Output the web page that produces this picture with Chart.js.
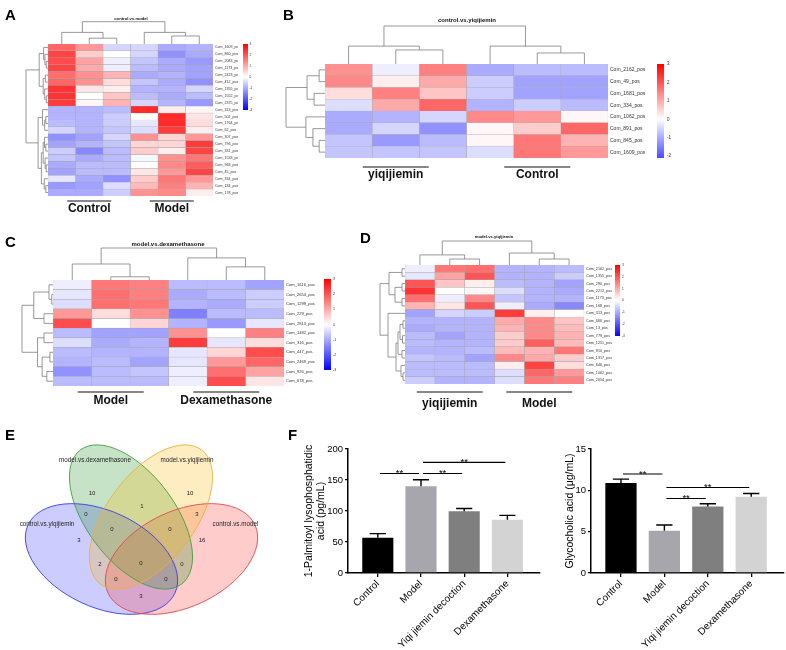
<!DOCTYPE html>
<html>
<head>
<meta charset="utf-8">
<script src="https://cdn.jsdelivr.net/npm/chart.js@4.4.1/dist/chart.umd.min.js"></script>
<style>
  body { margin: 0; background: #fff; }
  #fig { position: relative; width: 786px; height: 650px; overflow: hidden; }
  #fig canvas { position: absolute; left: 0; top: 0; }
  .tag { position: absolute; font: bold 15px "Liberation Sans", Arial, sans-serif; line-height: 15px; color: #000; }
</style>
</head>
<body>
<div id="fig">
  <canvas id="cA" width="786" height="650"></canvas>
  <canvas id="cB" width="786" height="650"></canvas>
  <canvas id="cC" width="786" height="650"></canvas>
  <canvas id="cD" width="786" height="650"></canvas>
  <canvas id="cE" width="786" height="650"></canvas>
  <canvas id="cF1" width="786" height="650"></canvas>
  <canvas id="cF2" width="786" height="650"></canvas>
  <div class="tag" style="left:5px;top:7px">A</div>
  <div class="tag" style="left:283px;top:7px">B</div>
  <div class="tag" style="left:5px;top:234px">C</div>
  <div class="tag" style="left:360px;top:230px">D</div>
  <div class="tag" style="left:5px;top:427px">E</div>
  <div class="tag" style="left:288px;top:427px">F</div>
</div>
<script>
const FONT = '"Liberation Sans", Arial, sans-serif';

// ---------- A: control.vs.model ----------
const aRows = ['Com_1609_pos', 'Com_860_pos', 'Com_2083_pos', 'Com_1173_pos', 'Com_2423_pos', 'Com_412_pos',
  'Com_1355_pos', 'Com_1552_pos', 'Com_2375_pos', 'Com_313_pos', 'Com_502_pos', 'Com_1764_pos', 'Com_62_pos',
  'Com_307_pos', 'Com_796_pos', 'Com_331_pos', 'Com_1533_pos', 'Com_968_pos', 'Com_45_pos', 'Com_334_pos',
  'Com_134_pos', 'Com_178_pos'];
const aValues = [
  [1.8, 1.2, -0.5, -0.5, -1.0, -0.9],
  [2.2, 0.6, 0.0, -0.5, -1.3, -1.0],
  [2.1, 1.1, -0.2, -0.7, -1.0, -1.2],
  [2.2, 1.0, -0.2, -0.8, -1.0, -1.1],
  [1.7, 1.3, 0.9, -1.0, -0.9, -1.1],
  [1.8, 1.3, 0.4, -0.7, -1.0, -1.3],
  [2.4, 0.3, 0.2, -0.9, -0.9, -0.5],
  [2.4, 0.0, 0.7, -0.8, -1.0, -0.8],
  [2.3, 0.1, 0.9, -0.5, -0.9, -1.2],
  [-0.9, -0.9, -0.8, 2.5, 0.2, 0.1],
  [-0.9, -0.9, -0.6, 0.0, 2.5, 0.3],
  [-0.8, -0.9, -0.6, -0.3, 2.5, 0.4],
  [-0.5, -0.9, -0.7, -0.4, 2.3, 0.2],
  [-1.3, -1.1, -0.5, 1.3, 0.5, 1.2],
  [-1.1, -0.9, -0.7, 0.5, 0.5, 2.3],
  [-0.6, -1.4, -0.8, 0.6, 0.2, 2.2],
  [-0.7, -1.0, -0.8, -0.1, 1.3, 1.6],
  [-1.0, -0.8, -0.8, 0.0, 1.4, 1.9],
  [-1.1, -0.8, -0.8, 0.3, 1.2, 2.2],
  [-0.3, -1.0, -1.3, 0.6, 1.6, 1.2],
  [-1.2, -1.1, -0.4, 0.8, 1.5, 0.9],
  [-1.0, -1.0, -0.6, 1.3, 1.4, 0.2]
];
// linkage rows: [childA, childB, height]; ids >= n are earlier merges
const aRowTree = [[2, 3, 0.08], [1, 22, 0.14], [0, 23, 0.2], [4, 5, 0.12], [7, 8, 0.08], [6, 26, 0.15],
  [25, 27, 0.22], [24, 28, 0.4], [10, 11, 0.1], [12, 30, 0.15], [9, 31, 0.25], [14, 15, 0.1], [13, 33, 0.16],
  [17, 18, 0.08], [16, 35, 0.13], [34, 36, 0.22], [20, 21, 0.1], [19, 38, 0.17], [37, 39, 0.3], [32, 40, 0.45],
  [29, 41, 1.0]];
const aColTree = [[1, 2, 0.26], [4, 5, 0.36], [0, 6, 0.52], [3, 7, 0.52], [8, 9, 1.0]];
const aGroups = [['Control', 0, 3], ['Model', 3, 6]];

// ---------- B: control.vs.yiqijiemin ----------
const bRows = ['Com_2162_pos', 'Com_49_pos', 'Com_1681_pos', 'Com_334_pos', 'Com_1062_pos', 'Com_891_pos',
  'Com_845_pos', 'Com_1609_pos'];
const bValues = [
  [1.3, -0.2, 1.5, -1.0, -0.8, -0.8],
  [1.4, 0.2, 1.0, -0.6, -1.1, -1.1],
  [0.4, 1.5, 0.7, -0.6, -1.1, -1.1],
  [-0.4, 1.0, 1.8, -0.9, -0.6, -0.8],
  [-1.0, -0.9, -0.5, 1.4, 1.2, 0.1],
  [-1.0, -0.5, -1.3, 0.1, 0.6, 1.8],
  [-0.7, -1.2, -0.8, 0.1, 1.6, 0.9],
  [-0.7, -0.7, -0.7, -0.4, 1.6, 1.2]
];
const bRowTree = [[0, 1, 0.15], [2, 3, 0.28], [8, 9, 0.46], [6, 7, 0.15], [5, 11, 0.31], [4, 12, 0.49], [10, 13, 1.0]];
const bColTree = [[1, 2, 0.37], [4, 5, 0.29], [0, 6, 0.47], [3, 7, 0.47], [8, 9, 1.0]];
const bGroups = [['yiqijiemin', 0, 3], ['Control', 3, 6]];

// ---------- C: model.vs.dexamethasone ----------
const cRows = ['Com_1616_pos', 'Com_2654_pos', 'Com_1299_pos', 'Com_229_pos', 'Com_2813_pos', 'Com_1482_pos',
  'Com_316_pos', 'Com_447_pos', 'Com_2469_pos', 'Com_926_pos', 'Com_678_pos'];
const cValues = [
  [-0.2, 1.6, 1.5, -0.8, -0.8, -1.1],
  [-0.3, 1.7, 1.5, -1.0, -0.8, -0.6],
  [-0.4, 1.7, 1.6, -0.9, -1.0, -0.6],
  [1.2, 0.4, 1.3, -1.5, -0.8, -0.8],
  [2.1, 0.0, 0.5, -0.9, -1.2, -0.3],
  [-0.8, -1.1, -1.1, 1.3, 0.0, 1.5],
  [-0.4, -1.0, -0.9, 2.3, -0.3, 0.4],
  [-0.8, -0.9, -0.9, -0.3, 0.5, 2.1],
  [-0.9, -0.8, -1.1, -0.3, 1.2, 1.8],
  [-1.3, -0.8, -0.7, -0.2, 1.7, 1.1],
  [-0.8, -0.8, -0.8, -0.2, 2.1, 0.3]
];
const cRowTree = [[1, 2, 0.04], [0, 11, 0.13], [3, 4, 0.29], [12, 13, 0.62], [5, 6, 0.29], [7, 8, 0.1],
  [9, 10, 0.2], [16, 17, 0.35], [15, 18, 0.5], [14, 19, 1.0]];
const cColTree = [[1, 2, 0.1], [4, 5, 0.41], [0, 6, 0.5], [3, 7, 0.69], [8, 9, 1.0]];
const cGroups = [['Model', 0, 3], ['Dexamethasone', 3, 6]];

// ---------- D: model.vs.yiqijiemin ----------
const dRows = ['Com_2162_pos', 'Com_1355_pos', 'Com_290_pos', 'Com_2212_pos', 'Com_1173_pos', 'Com_168_pos',
  'Com_313_pos', 'Com_666_pos', 'Com_13_pos', 'Com_779_pos', 'Com_1251_pos', 'Com_910_pos', 'Com_1317_pos',
  'Com_646_pos', 'Com_1062_pos', 'Com_2054_pos'];
const dValues = [
  [-0.2, 1.6, 1.7, -0.9, -0.9, -0.8],
  [-0.3, 1.1, 2.0, -0.9, -0.9, -0.6],
  [2.0, 0.7, 0.2, -0.8, -0.9, -1.1],
  [2.4, 0.0, 0.1, -0.4, -0.9, -1.0],
  [1.7, -0.2, 1.4, -0.7, -0.9, -0.9],
  [0.9, 0.3, 2.0, -0.2, -1.0, -1.4],
  [-1.1, -0.5, -0.6, 2.3, 0.2, 0.0],
  [-0.9, -0.9, -0.9, 1.0, 1.4, 0.7],
  [-1.0, -0.9, -0.9, 0.9, 1.4, 0.8],
  [-0.8, -1.1, -0.9, 0.6, 1.4, 0.9],
  [-0.8, -0.9, -0.9, 0.6, 1.9, 0.8],
  [-0.9, -0.9, -0.8, 0.8, 0.9, 1.6],
  [-0.7, -0.8, -1.1, 1.4, 1.0, 0.6],
  [-0.8, -0.8, -0.8, 0.2, 2.2, 0.4],
  [-0.8, -0.8, -0.8, -0.4, 1.8, 1.2],
  [-0.6, -0.9, -0.9, -0.4, 1.6, 1.5]
];
const dRowTree = [[0, 1, 0.12], [2, 3, 0.12], [4, 5, 0.12], [17, 18, 0.4], [16, 19, 0.64], [7, 8, 0.08],
  [9, 10, 0.1], [21, 22, 0.2], [11, 12, 0.12], [23, 24, 0.28], [14, 15, 0.08], [13, 26, 0.16], [25, 27, 0.36],
  [6, 28, 0.68], [20, 29, 1.0]];
const dColTree = [[1, 2, 0.25], [4, 5, 0.25], [0, 6, 0.42], [3, 7, 0.5], [8, 9, 1.0]];
const dGroups = [['yiqijiemin', 0, 3], ['Model', 3, 6]];

// ---------- E: Venn ----------
const vennSets = ['control.vs.yiqijiemin', 'control.vs.model', 'model.vs.dexamethasone', 'model.vs.yiqijiemin'];
const vennCounts = [10, 10, 1, 0, 3, 0, 0, 3, 16, 0, 2, 0, 0, 0, 3];

// ---------- F: bar charts ----------
const fGroups = ['Control', 'Model', 'Yiqi jiemin decoction', 'Dexamethasone'];
const lpaMean = [57, 140, 99.5, 86];
const lpaErr = [6.5, 10.5, 4.5, 7];
const lpaSig = [[0, 1, 160.6], [1, 2, 160.6], [1, 3, 178.4]];
const gcaMean = [10.9, 5.1, 8.05, 9.22];
const gcaErr = [0.45, 0.7, 0.32, 0.4];
const gcaSig = [[0, 1, 11.97], [1, 3, 10.35], [1, 2, 9.02]];

// ---------- helpers ----------
function heatColor(v) {
  const t = Math.max(-1, Math.min(1, v / 3));
  const r = t >= 0 ? 255 : Math.round(255 * (1 + t));
  const g = Math.round(255 * (1 - Math.abs(t)));
  const b = t <= 0 ? 255 : Math.round(255 * (1 - t));
  return `rgb(${r},${g},${b})`;
}

function drawTree(ctx, tree, n, leafPos, toPx, top) {
  const pos = [], hgt = [];
  for (let i = 0; i < n; i++) { pos[i] = leafPos(i); hgt[i] = 0; }
  const hmax = Math.max(...tree.map(m => m[2]));
  const pt = (q, h) => top ? [q, toPx(h / hmax)] : [toPx(h / hmax), q];
  ctx.beginPath();
  tree.forEach(([a, b, h], k) => {
    pos[n + k] = (pos[a] + pos[b]) / 2;
    hgt[n + k] = h;
    ctx.moveTo(...pt(pos[a], hgt[a]));
    ctx.lineTo(...pt(pos[a], h));
    ctx.lineTo(...pt(pos[b], h));
    ctx.lineTo(...pt(pos[b], hgt[b]));
  });
  ctx.stroke();
}

function heatmap(id, rows, values, rowTree, colTree, groups, title, L) {
  const nCol = values[0].length;
  const datasets = [];
  for (let j = 0; j < nCol; j++) {
    datasets.push({
      data: rows.map(() => [j, j + 1]),
      backgroundColor: values.map(r => heatColor(r[j])),
      borderColor: '#a5a5a5', borderWidth: 0.45, borderSkipped: false,
      grouped: false, barPercentage: 1, categoryPercentage: 1
    });
  }
  new Chart(document.getElementById(id), {
    type: 'bar',
    data: { labels: rows, datasets },
    options: {
      indexAxis: 'y', responsive: false, animation: false, events: [],
      layout: { padding: { left: L.grid[0], top: L.grid[1], right: 786 - L.grid[2] - L.labelW, bottom: 650 - L.grid[3] } },
      scales: {
        x: { type: 'linear', min: 0, max: nCol, display: false },
        y: {
          position: 'right',
          grid: { display: false, drawTicks: false },
          border: { display: false },
          ticks: { autoSkip: false, padding: 2, color: '#333', font: { family: FONT, size: L.labelSize } },
          afterFit: s => { s.width = L.labelW; }
        }
      },
      plugins: { legend: { display: false }, tooltip: { enabled: false } }
    },
    plugins: [{
      id: 'heatExtras',
      afterDatasetsDraw(chart) {
        const { ctx, chartArea: ca, scales: { x, y } } = chart;
        ctx.save();
        ctx.strokeStyle = '#7d7d7d';
        ctx.lineWidth = 0.8;
        drawTree(ctx, colTree, nCol, i => x.getPixelForValue(i + 0.5), f => ca.top - f * L.colTreeH, true);
        drawTree(ctx, rowTree, rows.length, i => y.getPixelForValue(i), f => ca.left - f * L.rowTreeW, false);

        // colour key
        const [bx0, by0, bx1, by1] = L.bar;
        const [vmin, vmax] = L.barRange;
        const grad = ctx.createLinearGradient(0, by0, 0, by1);
        [vmax, 0, vmin].forEach(v => grad.addColorStop((vmax - v) / (vmax - vmin), heatColor(v)));
        ctx.fillStyle = grad;
        ctx.fillRect(bx0, by0, bx1 - bx0, by1 - by0);
        ctx.fillStyle = '#333';
        ctx.font = `${L.barFont}px ${FONT}`;
        ctx.textAlign = 'left';
        ctx.textBaseline = 'middle';
        for (let v = Math.ceil(vmin); v <= vmax; v++) {
          ctx.fillText(String(v), bx1 + L.barGap, by0 + (vmax - v) / (vmax - vmin) * (by1 - by0));
        }

        // title
        ctx.fillStyle = '#111';
        ctx.textAlign = 'center';
        ctx.font = `bold ${L.titleSize}px ${FONT}`;
        ctx.fillText(title, L.title[0], L.title[1]);

        // group labels
        ctx.textBaseline = 'alphabetic';
        ctx.font = `bold 12px ${FONT}`;
        ctx.strokeStyle = '#111';
        ctx.lineWidth = 1.2;
        groups.forEach(([name, from, to]) => {
          const cx = x.getPixelForValue((from + to) / 2);
          ctx.beginPath();
          ctx.moveTo(cx - L.lineHalf, L.lineY);
          ctx.lineTo(cx + L.lineHalf, L.lineY);
          ctx.stroke();
          ctx.fillText(name, cx, L.textY);
        });
        ctx.restore();
      }
    }]
  });
}

heatmap('cA', aRows, aValues, aRowTree, aColTree, aGroups, 'control.vs.model', {
  grid: [48, 44, 213, 196], labelW: 25, labelSize: 3.6, colTreeH: 22.3, rowTreeW: 22,
  bar: [243, 44, 248, 110], barRange: [-3, 3], barFont: 3.2, barGap: 1.5,
  title: [131, 18.5], titleSize: 4.2, lineY: 201, lineHalf: 22, textY: 212
});
heatmap('cB', bRows, bValues, bRowTree, bColTree, bGroups, 'control.vs.yiqijiemin', {
  grid: [325, 64, 608, 158], labelW: 45, labelSize: 5, colTreeH: 38, rowTreeW: 39,
  bar: [657, 64, 664, 158], barRange: [-2.1, 3], barFont: 4.5, barGap: 3,
  title: [467, 20], titleSize: 6, lineY: 167, lineHalf: 33, textY: 178
});
heatmap('cC', cRows, cValues, cRowTree, cColTree, cGroups, 'model.vs.dexamethasone', {
  grid: [53, 280, 284, 386], labelW: 38, labelSize: 4.1, colTreeH: 32, rowTreeW: 31,
  bar: [324, 279, 331, 370], barRange: [-3, 3], barFont: 3.6, barGap: 2,
  title: [168, 244], titleSize: 6, lineY: 392, lineHalf: 33, textY: 404
});
heatmap('cD', dRows, dValues, dRowTree, dColTree, dGroups, 'model.vs.yiqijiemin', {
  grid: [405, 265, 584, 384], labelW: 30, labelSize: 3.7, colTreeH: 24, rowTreeW: 25,
  bar: [615, 265, 620, 336], barRange: [-3, 3], barFont: 3.2, barGap: 2,
  title: [494, 237], titleSize: 4.2, lineY: 392, lineHalf: 33, textY: 407
});

// ---------- Venn (layout in panel units; 1 unit = 1 px) ----------
const vennShapes = [
  { cx: 101.5, cy: 559, a: 81, b: 48, rot: 25, fill: 'rgba(40,40,255,0.24)', line: '#3a3ae6' },
  { cx: 181.5, cy: 559, a: 81, b: 48, rot: -25, fill: 'rgba(255,40,40,0.24)', line: '#e04848' },
  { cx: 131, cy: 517, a: 84, b: 44, rot: 53, fill: 'rgba(20,140,20,0.24)', line: '#3f9f3f' },
  { cx: 151, cy: 517, a: 84, b: 44, rot: -53, fill: 'rgba(255,180,0,0.24)', line: '#eab040' }
];
const vennSetPos = [[47, 524], [235.5, 524], [95, 460], [187, 460]];
const vennCountPos = [[92, 493], [190, 493], [142, 506], [86, 514], [197, 514], [112, 529], [170, 529],
  [79, 540], [202, 540], [141, 563], [100, 564], [182, 564], [116, 579], [166, 579], [141, 596]];

new Chart(document.getElementById('cE'), {
  type: 'scatter',
  data: { datasets: [{ data: vennCountPos.map(([x, y]) => ({ x, y })), pointRadius: 0 }] },
  options: {
    responsive: false, animation: false, events: [],
    layout: { padding: { left: 0, top: 400, right: 486, bottom: 0 } },
    scales: {
      x: { type: 'linear', min: 0, max: 300, display: false },
      y: { type: 'linear', min: 400, max: 650, reverse: true, display: false }
    },
    plugins: { legend: { display: false }, tooltip: { enabled: false } }
  },
  plugins: [{
    id: 'venn',
    beforeDatasetsDraw(chart) {
      const { ctx, scales: { x, y } } = chart;
      const geo = s => [x.getPixelForValue(s.cx), y.getPixelForValue(s.cy),
        x.getPixelForValue(s.cx + s.a) - x.getPixelForValue(s.cx),
        x.getPixelForValue(s.cx + s.b) - x.getPixelForValue(s.cx), s.rot * Math.PI / 180];
      ctx.save();
      vennShapes.forEach(s => {
        const [px, py, ra, rb, r] = geo(s);
        ctx.beginPath(); ctx.ellipse(px, py, ra, rb, r, 0, Math.PI * 2);
        ctx.fillStyle = s.fill; ctx.fill();
      });
      vennShapes.forEach(s => {
        const [px, py, ra, rb, r] = geo(s);
        ctx.beginPath(); ctx.ellipse(px, py, ra, rb, r, 0, Math.PI * 2);
        ctx.strokeStyle = s.line; ctx.lineWidth = 0.9; ctx.stroke();
      });
      ctx.restore();
    },
    afterDatasetsDraw(chart) {
      const { ctx, scales: { x, y } } = chart;
      ctx.save();
      ctx.fillStyle = '#222';
      ctx.textAlign = 'center';
      ctx.textBaseline = 'middle';
      ctx.font = `6px ${FONT}`;
      chart.getDatasetMeta(0).data.forEach((p, i) => ctx.fillText(String(vennCounts[i]), p.x, p.y));
      ctx.font = `6.3px ${FONT}`;
      vennSets.forEach((name, i) => ctx.fillText(name, x.getPixelForValue(vennSetPos[i][0]), y.getPixelForValue(vennSetPos[i][1])));
      ctx.restore();
    }
  }]
});

// ---------- F: bars with error bars and significance ----------
const fColors = ['#000000', '#a6a6ac', '#7f7f7f', '#d3d3d3'];

function barPanel(id, means, errs, sig, yMax, yStep, title, L) {
  new Chart(document.getElementById(id), {
    type: 'bar',
    data: {
      datasets: [{
        data: means.map((v, i) => ({ x: i, y: v })),
        backgroundColor: fColors, borderWidth: 0,
        barPercentage: 0.72, categoryPercentage: 1
      }]
    },
    options: {
      responsive: false, animation: false, events: [],
      layout: { padding: { left: L.padLeft, top: L.area[1], right: 786 - L.area[2], bottom: 0 } },
      scales: {
        x: {
          type: 'linear', min: -0.69, max: 3.755, offset: false,
          afterBuildTicks: s => { s.ticks = fGroups.map((g, i) => ({ value: i })); },
          afterFit: s => { s.height = 650 - L.area[3]; },
          ticks: {
            callback: v => fGroups[v], autoSkip: false, minRotation: 45, maxRotation: 45,
            color: '#000', font: { family: FONT, size: 10 }, padding: 1
          },
          grid: { offset: false, drawOnChartArea: false, color: '#000', lineWidth: 1.3, tickLength: 4 },
          border: { color: '#000', width: 1.5 }
        },
        y: {
          min: 0, max: yMax,
          ticks: { stepSize: yStep, color: '#000', font: { family: FONT, size: 9.5 }, padding: 2 },
          grid: { drawOnChartArea: false, color: '#000', lineWidth: 1.3, tickLength: 3 },
          border: { color: '#000', width: 1.5 },
          title: { display: true, text: title, color: '#000', font: { family: FONT, size: 10.5 }, padding: 0 },
          afterFit: s => { s.width = L.area[0] - L.padLeft; }
        }
      },
      plugins: { legend: { display: false }, tooltip: { enabled: false } }
    },
    plugins: [{
      id: 'errSig',
      afterDatasetsDraw(chart) {
        const { ctx, scales: { x, y } } = chart;
        ctx.save();
        ctx.strokeStyle = '#000';
        ctx.lineWidth = 1.4;
        chart.getDatasetMeta(0).data.forEach((bar, i) => {
          const top = y.getPixelForValue(means[i] + errs[i]);
          const half = bar.width * 0.26;
          ctx.beginPath();
          ctx.moveTo(bar.x, bar.y); ctx.lineTo(bar.x, top);
          ctx.moveTo(bar.x - half, top); ctx.lineTo(bar.x + half, top);
          ctx.stroke();
        });
        ctx.lineWidth = 1.1;
        ctx.fillStyle = '#000';
        ctx.textAlign = 'center';
        ctx.font = `9.5px ${FONT}`;
        sig.forEach(([a, b, v]) => {
          const py = y.getPixelForValue(v);
          const x0 = x.getPixelForValue(a) + 2, x1 = x.getPixelForValue(b) - 2;
          ctx.beginPath(); ctx.moveTo(x0, py); ctx.lineTo(x1, py); ctx.stroke();
          ctx.fillText('**', (x0 + x1) / 2, py + 2.5);
        });
        ctx.restore();
      }
    }]
  });
}

barPanel('cF1', lpaMean, lpaErr, lpaSig, 200, 50, ['1-Palmitoyl lysophosphatidic', 'acid (pg/mL)'],
  { area: [348, 449, 540, 573], padLeft: 302.7 });
barPanel('cF2', gcaMean, gcaErr, gcaSig, 15, 5, 'Glycocholic acid (\u03bcg/mL)',
  { area: [591, 449, 784, 573], padLeft: 563.7 });
</script>
</body>
</html>
